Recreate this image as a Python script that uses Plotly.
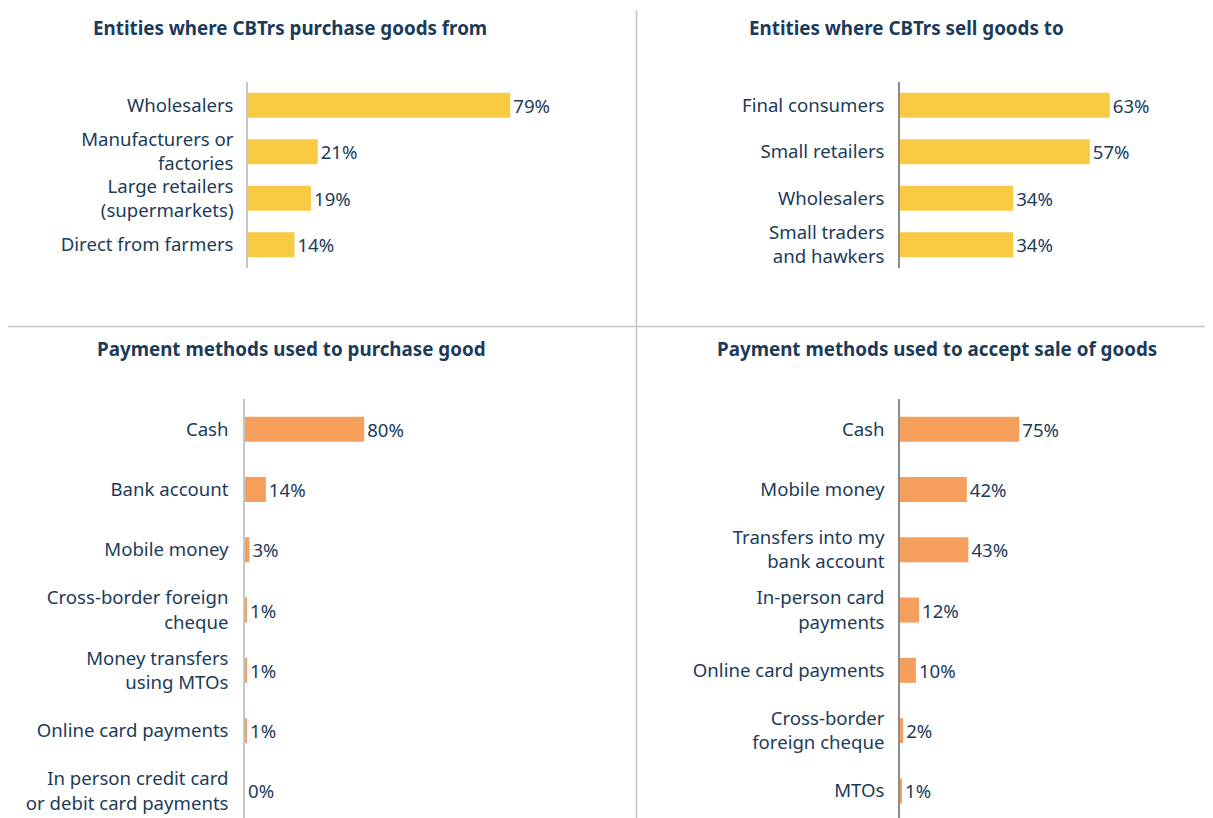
import plotly.graph_objects as go

W, H = 1213, 818
OFF = 8  # page body margin offset

# ---- data ----
buy_from_cats = ["Wholesalers", "Manufacturers or<br>factories", "Large retailers<br>(supermarkets)", "Direct from farmers"]
buy_from_vals = [79, 21, 19, 14]

sell_to_cats = ["Final consumers", "Small retailers", "Wholesalers", "Small traders<br>and hawkers"]
sell_to_vals = [63, 57, 34, 34]

pay_buy_cats = ["Cash", "Bank account", "Mobile money", "Cross-border foreign<br>cheque",
                "Money transfers<br>using MTOs", "Online card payments",
                "In person credit card<br>or debit card payments"]
pay_buy_vals = [80, 14, 3, 1, 1, 1, 0]

pay_sell_cats = ["Cash", "Mobile money", "Transfers into my<br>bank account", "In-person card<br>payments",
                 "Online card payments", "Cross-border<br>foreign cheque", "MTOs"]
pay_sell_vals = [75, 42, 43, 12, 10, 2, 1]

titles = ["Entities where CBTrs purchase goods from", "Entities where CBTrs sell goods to",
          "Payment methods used to purchase good", "Payment methods used to accept sale of goods"]

YELLOW = "#F8CA43"
ORANGE = "#F69E5C"
NAVY = "#1C3B59"
FONT = "Noto Sans"
FS = 18.6

def px_x(p):
    return (p - OFF) / W

def px_y(p):
    return 1 - (p - OFF) / H

fig = go.Figure()

panels = [
    # cats, vals, color, x-axis px start, x px end, px per %, y top px, y bottom px, axis line color, title cx, title cy, tick gap
    (buy_from_cats, buy_from_vals, YELLOW, 248, 600, 3.32, 82, 268, "#c6c6c6", 290, 28, 9),
    (sell_to_cats, sell_to_vals, YELLOW, 900, 1200, 3.33, 82, 268, "#8c8c8c", 906, 28, 10),
    (pay_buy_cats, pay_buy_vals, ORANGE, 245, 600, 1.49, 399, 818, "#c6c6c6", 291, 349, 11),
    (pay_sell_cats, pay_sell_vals, ORANGE, 900, 1200, 1.59, 399, 818, "#8c8c8c", 937, 349, 10),
]

for i, (cats, vals, color, x0, x1, ppu, yt, yb, lc, tcx, tcy, tl) in enumerate(panels):
    n = i + 1
    xa = "x" if n == 1 else f"x{n}"
    ya = "y" if n == 1 else f"y{n}"
    band = (yb - yt) / len(cats) if n <= 2 else 60.3
    idx = list(range(len(cats)))
    fig.add_trace(go.Bar(
        x=vals, y=idx, orientation="h", marker_color=color, marker_line_width=0,
        width=25 / band,
        text=[f"{v}%" for v in vals], textposition="outside",
        textfont=dict(family=FONT, size=FS, color=NAVY),
        cliponaxis=False, xaxis=xa, yaxis=ya, showlegend=False, hoverinfo="skip",
    ))
    xkey = "xaxis" if n == 1 else f"xaxis{n}"
    ykey = "yaxis" if n == 1 else f"yaxis{n}"
    fig.update_layout(**{
        xkey: dict(domain=[px_x(x0), px_x(x1)], range=[0, (x1 - x0) / ppu], visible=False,
                   anchor=ya, fixedrange=True),
        ykey: dict(domain=[max(0, px_y(yb)), px_y(yt)],
                   range=[-0.5 + (yb - yt) / band, -0.5],
                   tickmode="array", tickvals=idx, ticktext=cats,
                   showline=True, linecolor=lc, linewidth=1.5,
                   ticks="outside", ticklen=tl, tickcolor="rgba(0,0,0,0)",
                   showgrid=False, zeroline=False, anchor=xa,
                   tickfont=dict(family=FONT, size=FS, color=NAVY)),
    })
    fig.add_annotation(text=f"<b>{titles[i]}</b>", x=px_x(tcx), y=px_y(tcy), xref="paper", yref="paper",
                       showarrow=False, xanchor="center", yanchor="middle",
                       font=dict(family=FONT, size=18.8, color=NAVY))

# divider lines
fig.add_shape(type="line", xref="paper", yref="paper", x0=px_x(636.5), x1=px_x(636.5), y0=0, y1=px_y(10),
              line=dict(color="#c4c4c4", width=1.5))
fig.add_shape(type="line", xref="paper", yref="paper", x0=px_x(8), x1=1, y0=px_y(326.5), y1=px_y(326.5),
              line=dict(color="#c4c4c4", width=1.5))

fig.update_layout(width=W, height=H, margin=dict(l=0, r=0, t=0, b=0),
                  paper_bgcolor="white", plot_bgcolor="white",
                  font=dict(family=FONT, color=NAVY))

fig.write_html("out.html")
